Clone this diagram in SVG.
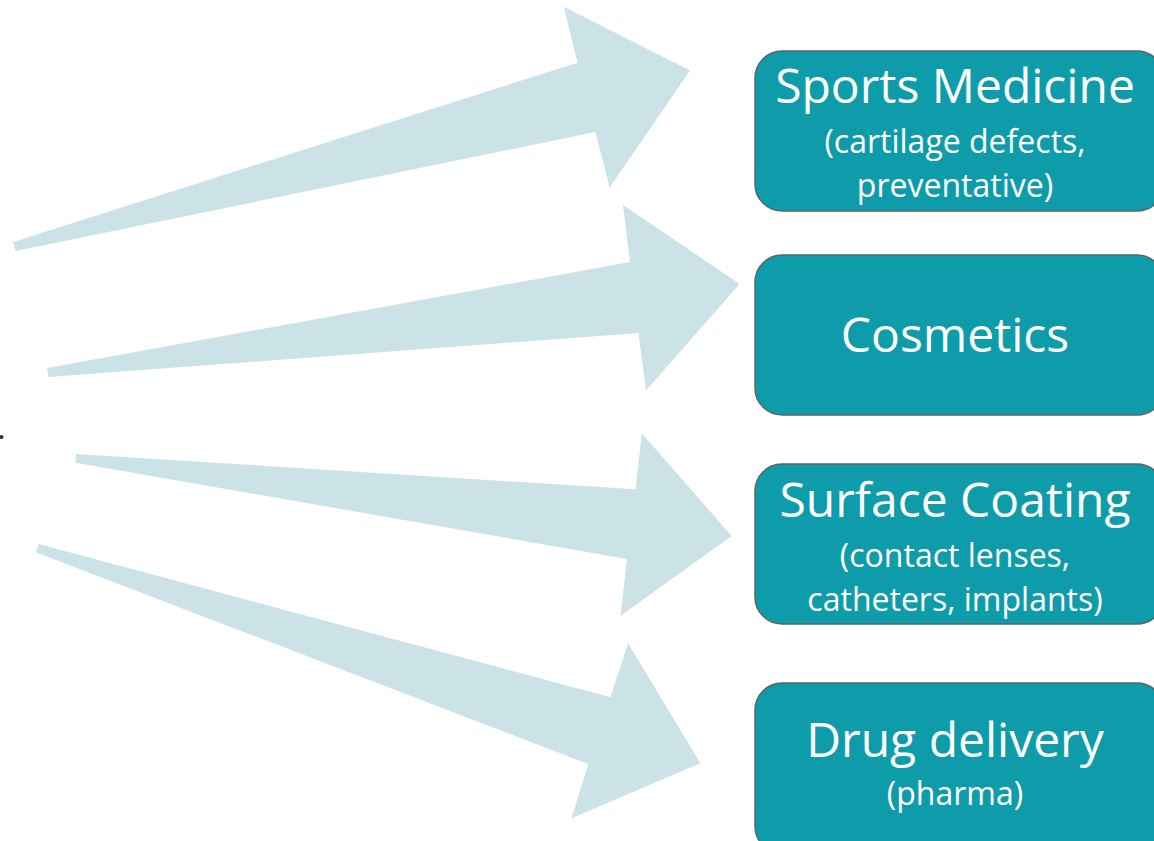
<svg xmlns="http://www.w3.org/2000/svg" width="1154" height="841" viewBox="0 0 1154 841">
<style>
.arrow{fill:#CBE2E6;stroke:none}
.box{fill:#0E9CAB;stroke:#56676A;stroke-width:1.5}
.t{font-family:"Open Sans","Noto Sans",sans-serif;fill:#FFFFFF;text-anchor:middle}
.big{font-size:48px}
.small{font-size:32px}
</style>
<rect width="1154" height="841" fill="#FFFFFF"/>
<circle cx="1.5" cy="437" r="2" fill="#1f3a40"/>
<g id="connectors">
<polygon class="arrow" points="13.2,242 577.5,62.7 563.8,6.8 690,70.5 609.6,187.5 595.5,132 15.6,251"/>
<polygon class="arrow" points="47.3,368 630,262 623,205 739.6,284 646,390.5 638.5,333 48.2,377"/>
<polygon class="arrow" points="76,454 635.6,489.3 641.8,433.3 731.6,536 620.5,615.7 627,559 75.6,462.7"/>
<polygon class="arrow" points="38.8,544 610.6,697.3 628,643.3 700.4,763.3 571.4,818.3 588.4,764 35.9,552.3"/>
</g>
<g id="sports-medicine">
<rect class="box" x="755" y="51" width="409" height="160" rx="27" ry="27"/>
<text class="t big" x="955" y="103">Sports Medicine</text>
<text class="t small" x="955" y="153">(cartilage defects,</text>
<text class="t small" x="955" y="197">preventative)</text>
</g>
<g id="cosmetics">
<rect class="box" x="755" y="255" width="409" height="160" rx="27" ry="27"/>
<text class="t big" x="955" y="352">Cosmetics</text>
</g>
<g id="surface-coating">
<rect class="box" x="755" y="464" width="409" height="160" rx="27" ry="27"/>
<text class="t big" x="955" y="517">Surface Coating</text>
<text class="t small" x="955" y="567">(contact lenses,</text>
<text class="t small" x="955" y="611">catheters, implants)</text>
</g>
<g id="drug-delivery">
<rect class="box" x="755" y="683" width="409" height="170" rx="27" ry="27"/>
<text class="t big" x="955" y="757">Drug delivery</text>
<text class="t small" x="955" y="805">(pharma)</text>
</g>
</svg>
